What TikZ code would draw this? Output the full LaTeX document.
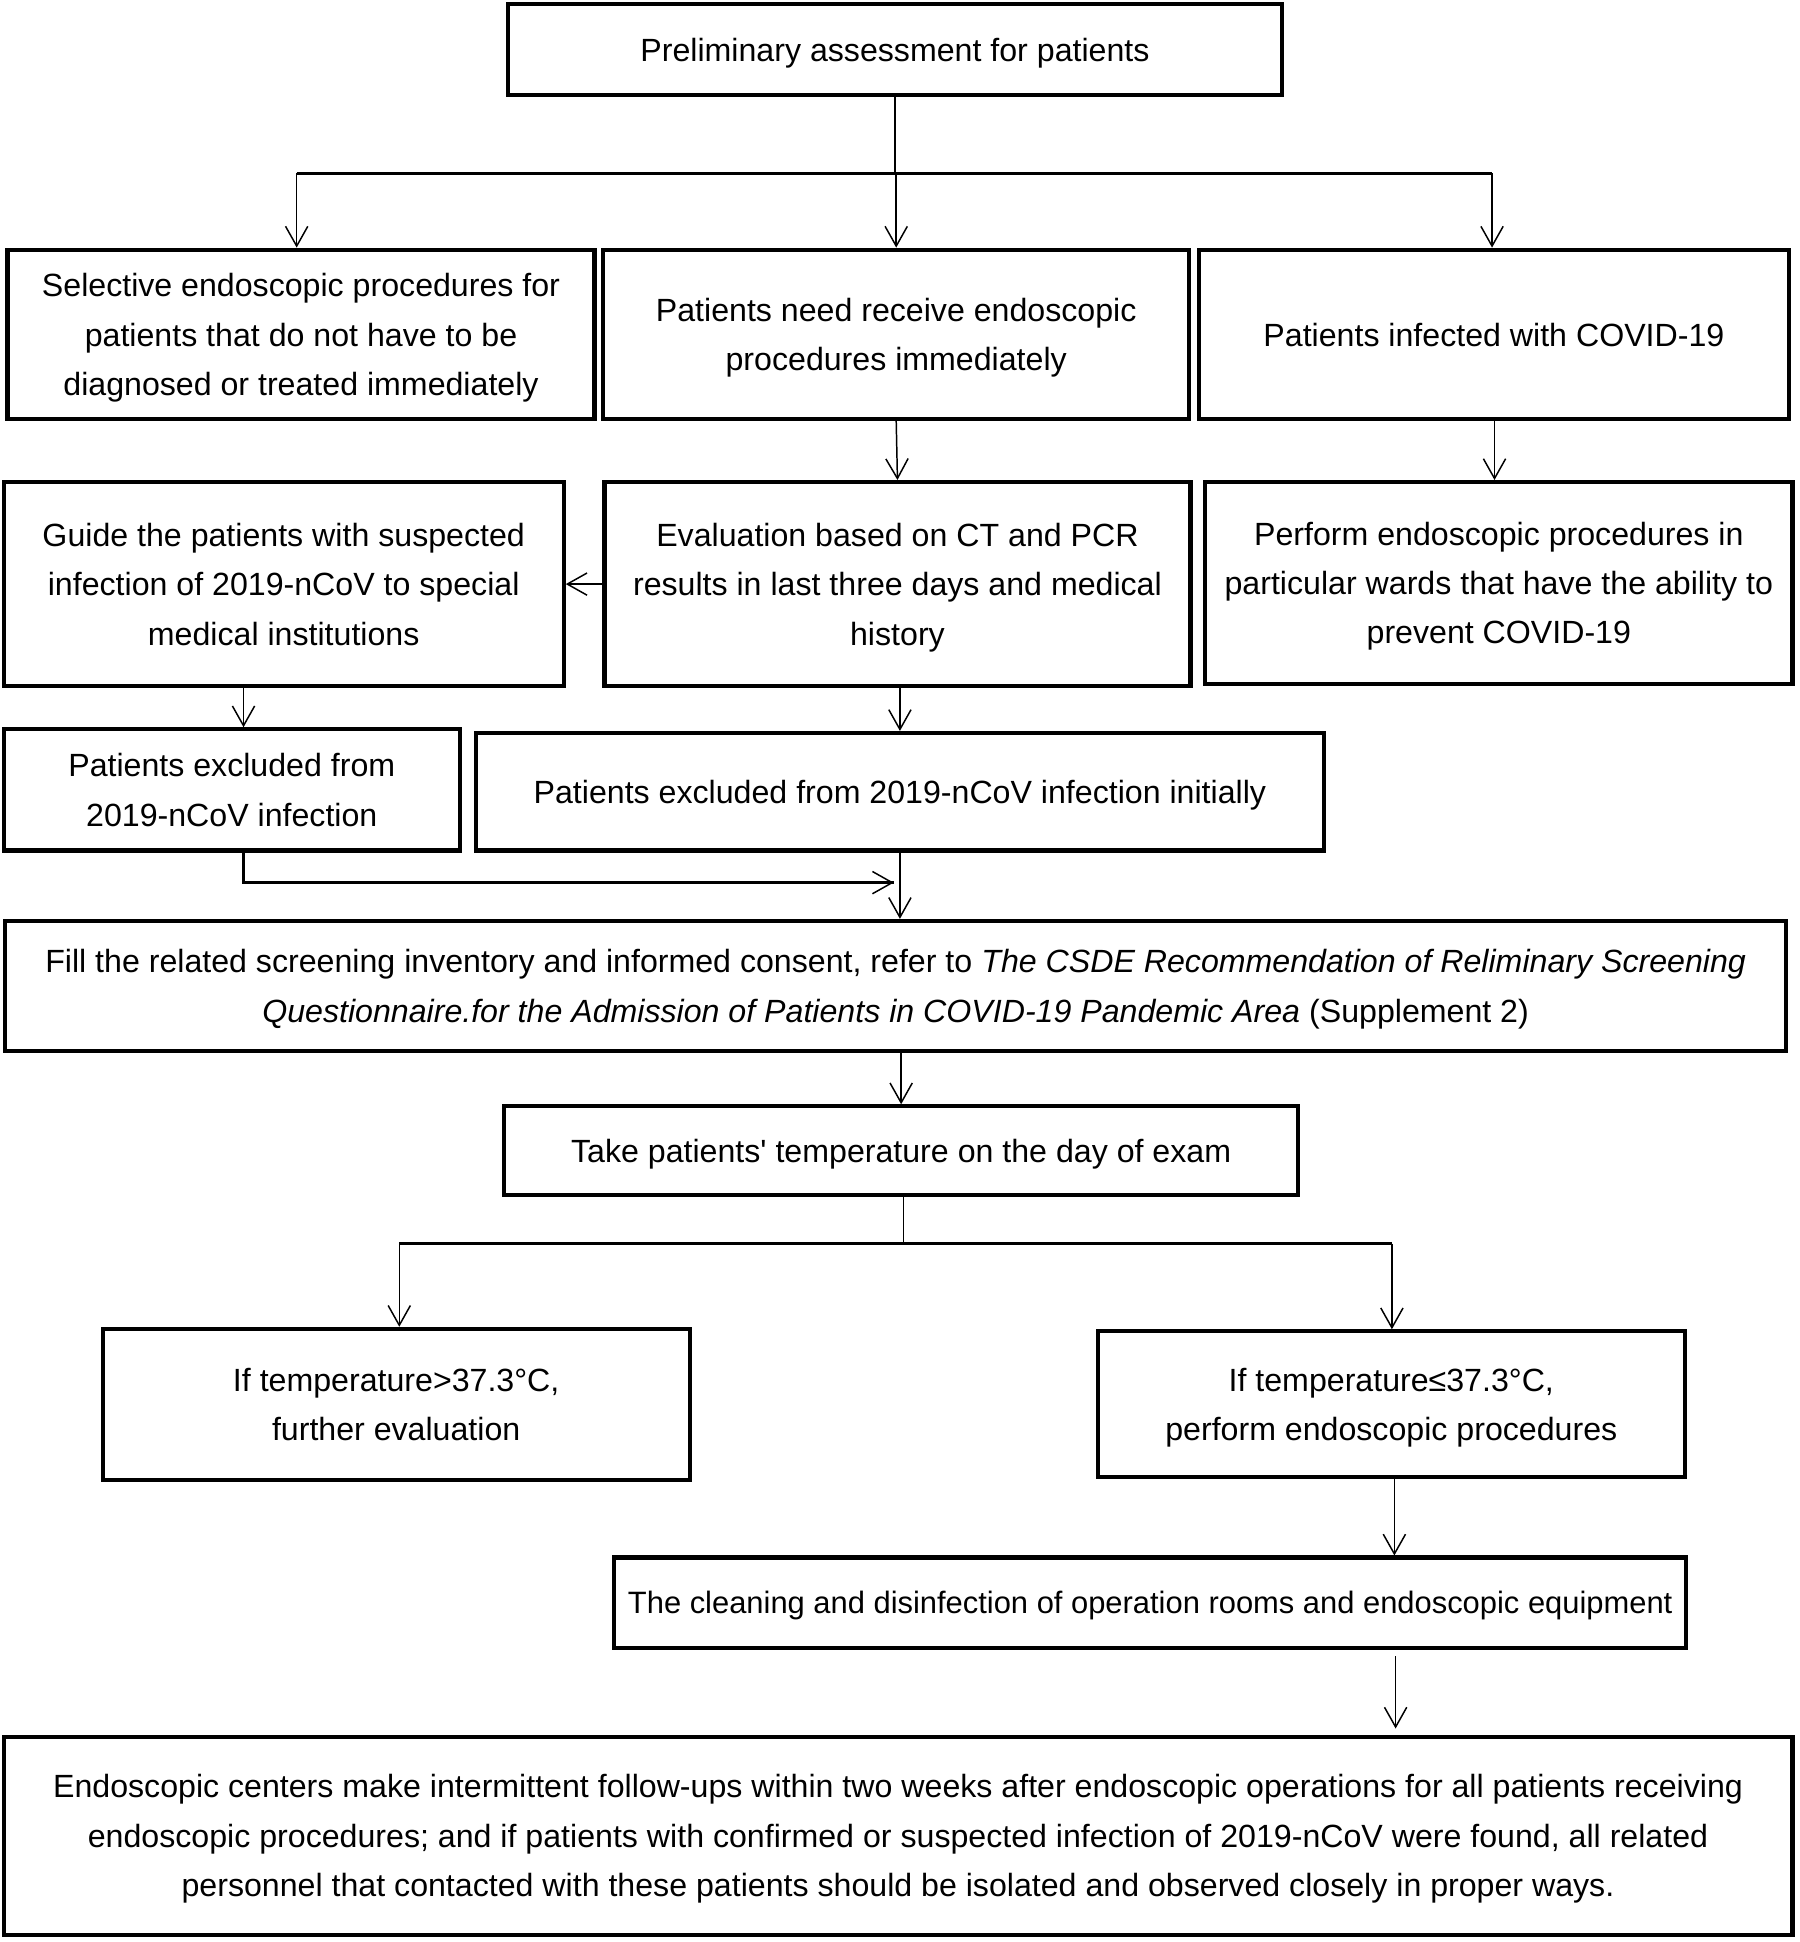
\documentclass[tikz,border=0pt]{standalone}
\usepackage{fontspec}
\setmainfont{Liberation Sans}
\usetikzlibrary{arrows.meta}
\begin{document}
\begin{tikzpicture}[x=0.5pt,y=-0.5pt,
  box/.style={draw, line width=1.7pt, inner sep=0pt, align=center, text depth=0pt, font=\fontsize{13pt}{20pt}\selectfont},
  arr/.style={line width=0.6pt, -{Straight Barb[length=8pt,width=9pt,line width=0.6pt]}},
  branch/.style={line width=1.2pt}]
\useasboundingbox (0,0) rectangle (1456,1571);

\node[box, minimum width=313pt, minimum height=37pt] (top) at (724,40) {Preliminary assessment for patients};

\node[box, minimum width=237.5pt, minimum height=68.5pt] (A) at (243.5,270.5) {Selective endoscopic procedures for\\patients that do not have to be\\diagnosed or treated immediately};
\node[box, minimum width=237pt, minimum height=68.5pt] (B) at (725,270.5) {Patients need receive endoscopic\\procedures immediately};
\node[box, minimum width=238.5pt, minimum height=68.5pt] (C) at (1208.5,270.5) {Patients infected with COVID-19};

\node[box, minimum width=226.5pt, minimum height=82.5pt] (D) at (229.5,472.5) {Guide the patients with suspected\\infection of 2019-nCoV to special\\medical institutions};
\node[box, minimum width=237pt, minimum height=82.5pt] (E) at (726,472.5) {Evaluation based on CT and PCR\\results in last three days and medical\\history};
\node[box, minimum width=237.5pt, minimum height=81.5pt] (F) at (1212.5,471.5) {Perform endoscopic procedures in\\particular wards that have the ability to\\prevent COVID-19};

\node[box, minimum width=184.5pt, minimum height=49pt] (G) at (187.5,639) {Patients excluded from\\2019-nCoV infection};
\node[box, minimum width=343pt, minimum height=47.5pt] (H) at (728,640.5) {Patients excluded from 2019-nCoV infection initially};

\node[box, minimum width=720.5pt, minimum height=52.5pt] (I) at (724.5,797.5) {Fill the related screening inventory and informed consent, refer to \textit{The CSDE Recommendation of Reliminary Screening}\\\textit{Questionnaire.for the Admission of Patients in COVID-19 Pandemic Area} (Supplement 2)};

\node[box, minimum width=321pt, minimum height=36pt] (J) at (729,931) {Take patients\textquotesingle\ temperature on the day of exam};

\node[box, minimum width=237.5pt, minimum height=61pt] (K) at (320.5,1136) {If temperature>37.3°C,\\further evaluation};
\node[box, minimum width=237.5pt, minimum height=59pt] (L) at (1125.5,1136) {If temperature≤37.3°C,\\perform endoscopic procedures};

\node[box, minimum width=433.5pt, minimum height=36.5pt, font=\fontsize{12.5pt}{20pt}\selectfont] (M) at (930.5,1296.5) {The cleaning and disinfection of operation rooms and endoscopic equipment};

\node[box, minimum width=723.5pt, minimum height=80pt] (N) at (726.5,1485) {Endoscopic centers make intermittent follow-ups within two weeks after endoscopic operations for all patients receiving\\endoscopic procedures; and if patients with confirmed or suspected infection of 2019-nCoV were found, all related\\personnel that contacted with these patients should be isolated and observed closely in proper ways.};

% first branching
\coordinate (b1) at (724,140);
\draw[line width=0.6pt] (top.south) -- (b1);
\draw[branch] (240,140) -- (1207,140);
\draw[arr] (240,140) -- (A.north -| 240,0);
\draw[arr] (B.north |- b1) -- (B.north);
\draw[arr] (1207,140) -- (C.north -| 1207,0);

% second row
\draw[arr] (B.south) -- (E.north);
\draw[arr] (C.south -| 1209,0) -- (F.north -| 1209,0);
\draw[arr] (E.west) -- (D.east);

% third row
\draw[arr] (D.south -| 197,0) -- (G.north -| 197,0);
\draw[arr] (E.south -| H.north) -- (H.north);

% merge
\coordinate (m1) at (723,714);
\draw[branch] (G.south -| 197,0) |- (m1);
\draw[arr] (G.south -| 197,0) |- (m1);
\draw[arr] (H.south) -- (H.south |- I.north);

\draw[arr] (I.south -| J.north) -- (J.north);

% temperature branching
\coordinate (b2) at (731,1006);
\draw[line width=0.6pt] (J.south -| b2) -- (b2);
\draw[branch] (323,1006) -- (1126,1006);
\draw[arr] (323,1006) -- (K.north -| 323,0);
\draw[arr] (1126,1006) -- (L.north -| 1126,0);

\draw[arr] (L.south -| 1128,0) -- (M.north -| 1128,0);
\draw[arr] ([yshift=-2.5pt]M.south -| 1129,0) -- ([yshift=2.5pt]N.north -| 1129,0);
\end{tikzpicture}
\end{document}
